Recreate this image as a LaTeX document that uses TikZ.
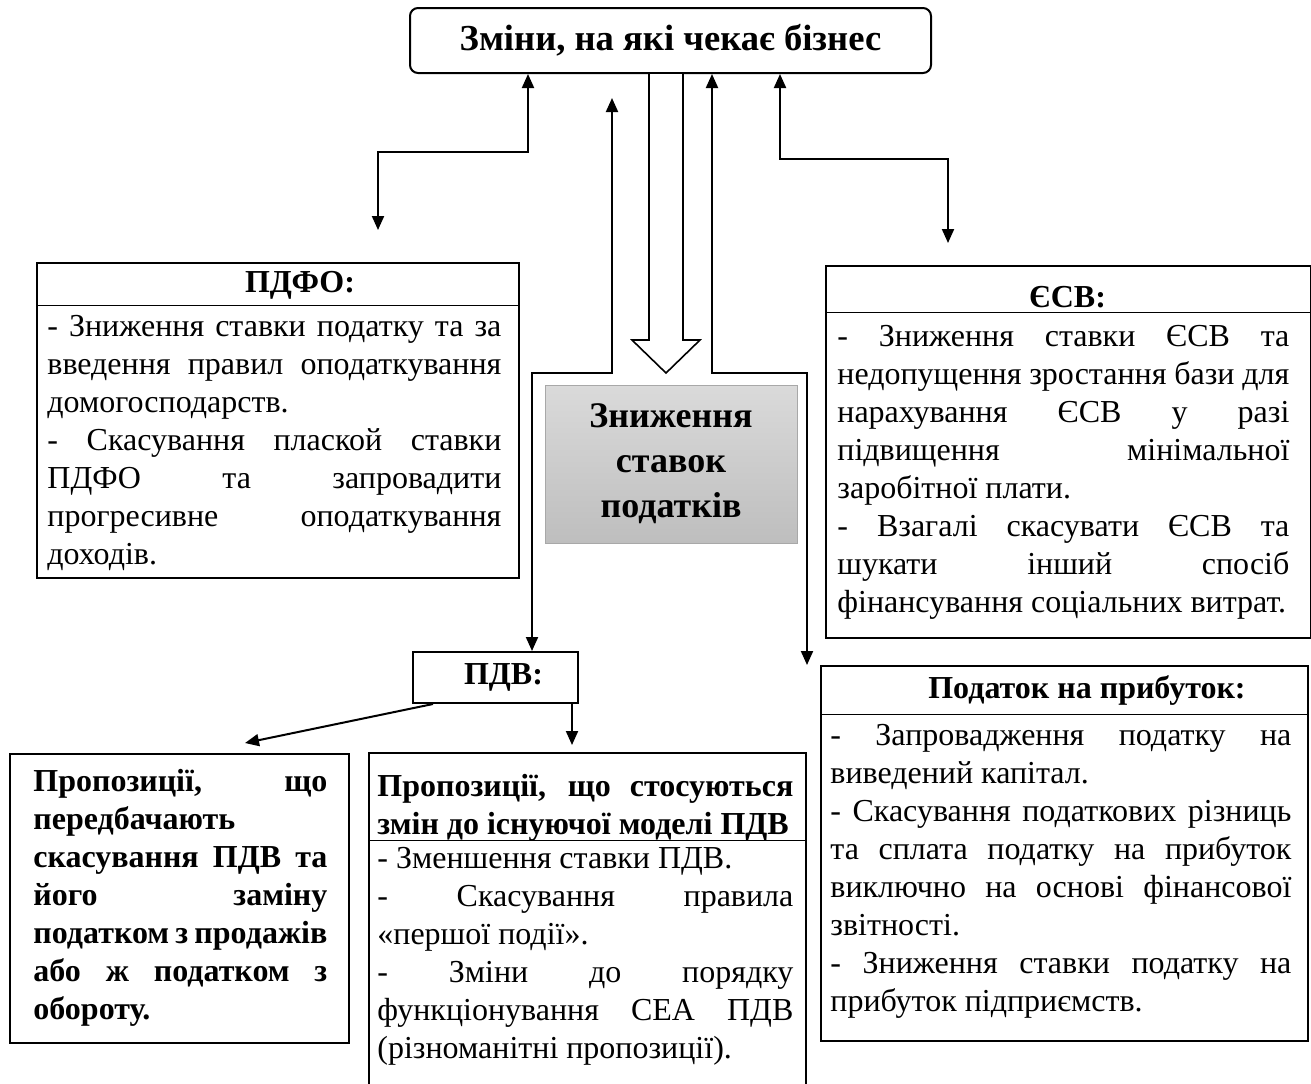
\documentclass[tikz,border=0pt]{standalone}
\usepackage{fontspec}
\setmainfont{Liberation Serif}
\usepackage{tikz}
\usetikzlibrary{positioning, arrows.meta}
\definecolor{cuttop}{HTML}{DADADA}
\definecolor{cutbottom}{HTML}{BEBEBE}
\definecolor{cutline}{HTML}{A8A8A8}
\hyphenpenalty=10000
\exhyphenpenalty=10000

\tikzset{
    box/.style={draw, line width=1pt, anchor=north west, inner sep=0pt},
    head/.style={inner sep=0pt, font=\fontsize{16}{19}\selectfont\bfseries},
    body/.style={anchor=north west, inner sep=0pt, align=justify, font=\fontsize{16}{19}\selectfont},
    rule/.style={line width=0.5pt},
    link/.style={line width=1pt, -{Triangle[length=7pt, width=6pt]}},
    both/.style={line width=1pt, {Triangle[length=7pt, width=6pt]}-{Triangle[length=7pt, width=6pt]}},
    hollow/.style={line width=0.8pt, fill=white, line join=miter}
}

\begin{document}
\begin{tikzpicture}[x=0.5pt, y=-0.5pt]
    \useasboundingbox (0,0) rectangle (1311,1083);

    \node[draw, line width=1pt, rounded corners=4pt, minimum width=260.5pt, minimum height=32.5pt,
          font=\fontsize{18.3}{22}\selectfont\bfseries] (top) at (670.5,40.5) {Зміни, на які чекає бізнес};

    \node[draw=cutline, line width=0.5pt, top color=cuttop, bottom color=cutbottom,
          minimum width=126pt, minimum height=79pt, align=center,
          font=\fontsize{18}{22.5}\selectfont\bfseries] (cut) at (671,464) {Зниження\\ставок\\податків};

    \node[box, minimum width=241pt, minimum height=157.5pt] (pdfo) at (36,262) {};
    \node[head] at (300,285) {ПДФО:};
    \draw[rule] (pdfo.west |- 0,305) -- (pdfo.east |- 0,305);
    \node[body, text width=227pt] at (47,309.4) {\strut- Зниження ставки податку та за\linebreak
      введення правил оподаткування\linebreak домогосподарств.\par
      - Скасування плаской ставки\linebreak ПДФО та запровадити\linebreak
      прогресивне оподаткування\linebreak доходів.};

    \node[box, minimum width=242.5pt, minimum height=186pt] (esv) at (825,265) {};
    \node[head] at (1067.5,297) {ЄСВ:};
    \draw[rule] (esv.west |- 0,312) -- (esv.east |- 0,312);
    \node[body, text width=226pt] at (837,319.4) {\strut- Зниження ставки ЄСВ та\linebreak
      недопущення зростання бази для\linebreak нарахування ЄСВ у разі\linebreak
      підвищення мінімальної\linebreak заробітної плати.\par
      - Взагалі скасувати ЄСВ та\linebreak шукати інший спосіб\linebreak
      фінансування соціальних витрат.};

    \node[box, minimum width=82.5pt, minimum height=25.5pt, anchor=center,
          font=\fontsize{16}{19}\selectfont\bfseries] (pdv) at (495.5,677.5) {\hspace*{8pt}ПДВ:};

    \node[box, minimum width=243.5pt, minimum height=187.5pt] (profit) at (820,665) {};
    \node[head] at (1087,690) {Податок на прибуток:};
    \draw[rule] (profit.west |- 0,714) -- (profit.east |- 0,714);
    \node[body, text width=230.5pt] at (830,718.4) {\strut- Запровадження податку на\linebreak
      виведений капітал.\par
      - Скасування податкових різниць\linebreak та сплата податку на прибуток\linebreak
      виключно на основі фінансової\linebreak звітності.\par
      - Зниження ставки податку на\linebreak прибуток підприємств.};

    \node[box, minimum width=169.5pt, minimum height=144.5pt] (abolish) at (9,753) {};
    \node[body, text width=147pt, font=\fontsize{16}{19}\selectfont\bfseries] at (33,764.4) {\strut Пропозиції, що\linebreak
      передбачають\linebreak скасування ПДВ та\linebreak його заміну\linebreak
      податком з продажів\linebreak або ж податком з\linebreak обороту.};

    \node[box, minimum width=218.5pt, minimum height=180pt] (model) at (368,752) {};
    \node[body, text width=208pt, font=\fontsize{16}{19}\selectfont\bfseries] at (377,769.4) {\strut Пропозиції, що стосуються\linebreak
      змін до існуючої моделі ПДВ};
    \draw[rule] (model.west |- 0,840) -- (model.east |- 0,840);
    \node[body, text width=208pt] at (377,841.4) {\strut- Зменшення ставки ПДВ.\par
      - Скасування правила\linebreak «першої події».\par
      - Зміни до порядку\linebreak функціонування СЕА ПДВ\linebreak
      (різноманітні пропозиції).};

    \coordinate (pdfotip) at (378,230);
    \coordinate (esvtip) at (948,243);
    \coordinate (pdvtop) at (612,98);
    \coordinate (profittip) at (807,665);
    \coordinate (abolishtip) at (245,743);
    \coordinate (modeltip) at (572,745);

    \draw[hollow] (top.south -| 649,0) -- (649,340) -- (632,340) -- (666,373)
        -- (700,340) -- (683,340) -- (top.south -| 683,0);

    \draw[both] (top.south -| 528,0) -- (528,152) -| (pdfotip);
    \draw[both] (top.south -| 780,0) -- (780,159) -| (esvtip);
    \draw[both] (pdvtop) -- (612,373) -| (pdv.north -| 532,0);
    \draw[both] (top.south -| 712,0) -- (712,373) -| (profittip);
    \draw[link] (pdv.south -| 433,0) -- (abolishtip);
    \draw[link] (pdv.south -| 572,0) -- (modeltip);
\end{tikzpicture}
\end{document}
